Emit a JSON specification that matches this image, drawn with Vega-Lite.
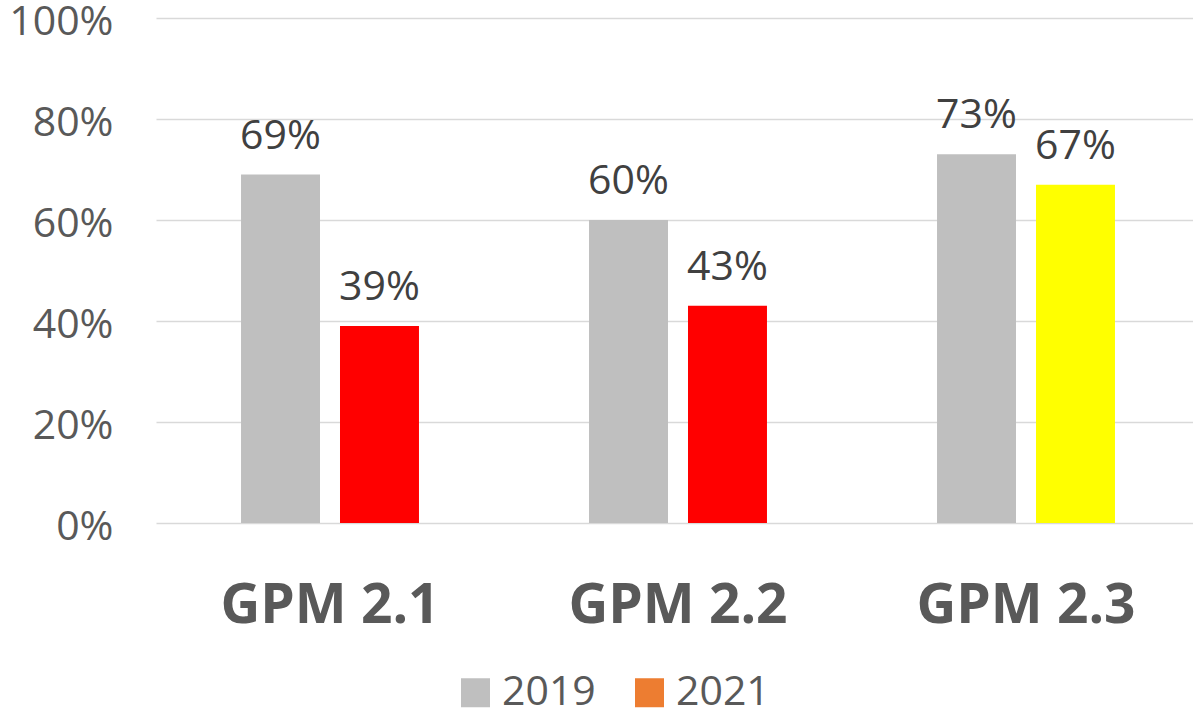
{
  "$schema": "https://vega.github.io/schema/vega-lite/v6.json",
  "autosize": {"type": "none"},
  "padding": {"left": 156, "top": 18, "right": -7, "bottom": 192},
  "width": 1044,
  "height": 505,
  "background": "white",
  "data": {
    "values": [
      {"gpm": "GPM 2.1", "year": "2019", "value": 0.69},
      {"gpm": "GPM 2.1", "year": "2021", "value": 0.39},
      {"gpm": "GPM 2.2", "year": "2019", "value": 0.60},
      {"gpm": "GPM 2.2", "year": "2021", "value": 0.43},
      {"gpm": "GPM 2.3", "year": "2019", "value": 0.73},
      {"gpm": "GPM 2.3", "year": "2021", "value": 0.67}
    ]
  },
  "encoding": {
    "x": {
      "field": "gpm", "type": "nominal", "sort": null, "title": null,
      "scale": {"paddingInner": 0, "paddingOuter": 0},
      "axis": {
        "labelAngle": 0, "domain": false, "ticks": false, "grid": false,
        "labelFont": "Open Sans", "labelFontWeight": "bold", "labelFontSize": 55,
        "labelColor": "#595959", "labelPadding": 56, "labelLimit": 400
      }
    },
    "xOffset": {
      "field": "year", "type": "nominal",
      "scale": {"paddingInner": 0.202, "paddingOuter": 0.859}
    },
    "y": {
      "field": "value", "type": "quantitative", "title": null,
      "scale": {"domain": [0, 1], "nice": false},
      "axis": {
        "values": [0, 0.2, 0.4, 0.6, 0.8, 1], "format": ".0%",
        "domain": false, "ticks": false, "grid": true,
        "gridColor": "#D9D9D9", "gridWidth": 1.5,
        "labelFont": "Open Sans", "labelFontSize": 41, "labelColor": "#595959",
        "labelPadding": 43, "labelOffset": 4
      }
    }
  },
  "layer": [
    {
      "mark": {"type": "bar"},
      "encoding": {
        "color": {
          "field": "year", "type": "nominal",
          "scale": {"domain": ["2019", "2021"], "range": ["#BFBFBF", "#ED7D31"]},
          "condition": [
            {"test": "datum.year === '2021' && datum.gpm === 'GPM 2.3'", "value": "#FFFF00"},
            {"test": "datum.year === '2021'", "value": "#FF0000"}
          ],
          "legend": {
            "title": null, "orient": "none", "direction": "horizontal",
            "legendX": 299, "legendY": 654,
            "symbolType": "square", "symbolSize": 841, "symbolStrokeWidth": 0,
            "symbolOpacity": 1,
            "labelFont": "Open Sans", "labelFontSize": 41, "labelColor": "#595959",
            "labelOffset": 6, "columnPadding": 33, "padding": 0, "labelLimit": 300
          }
        }
      }
    },
    {
      "mark": {"type": "text", "baseline": "alphabetic", "dy": -26, "font": "Open Sans", "fontSize": 41, "color": "#404040"},
      "encoding": {
        "text": {"field": "value", "type": "quantitative", "format": ".0%"}
      }
    }
  ],
  "config": {
    "view": {"stroke": null}
  }
}
